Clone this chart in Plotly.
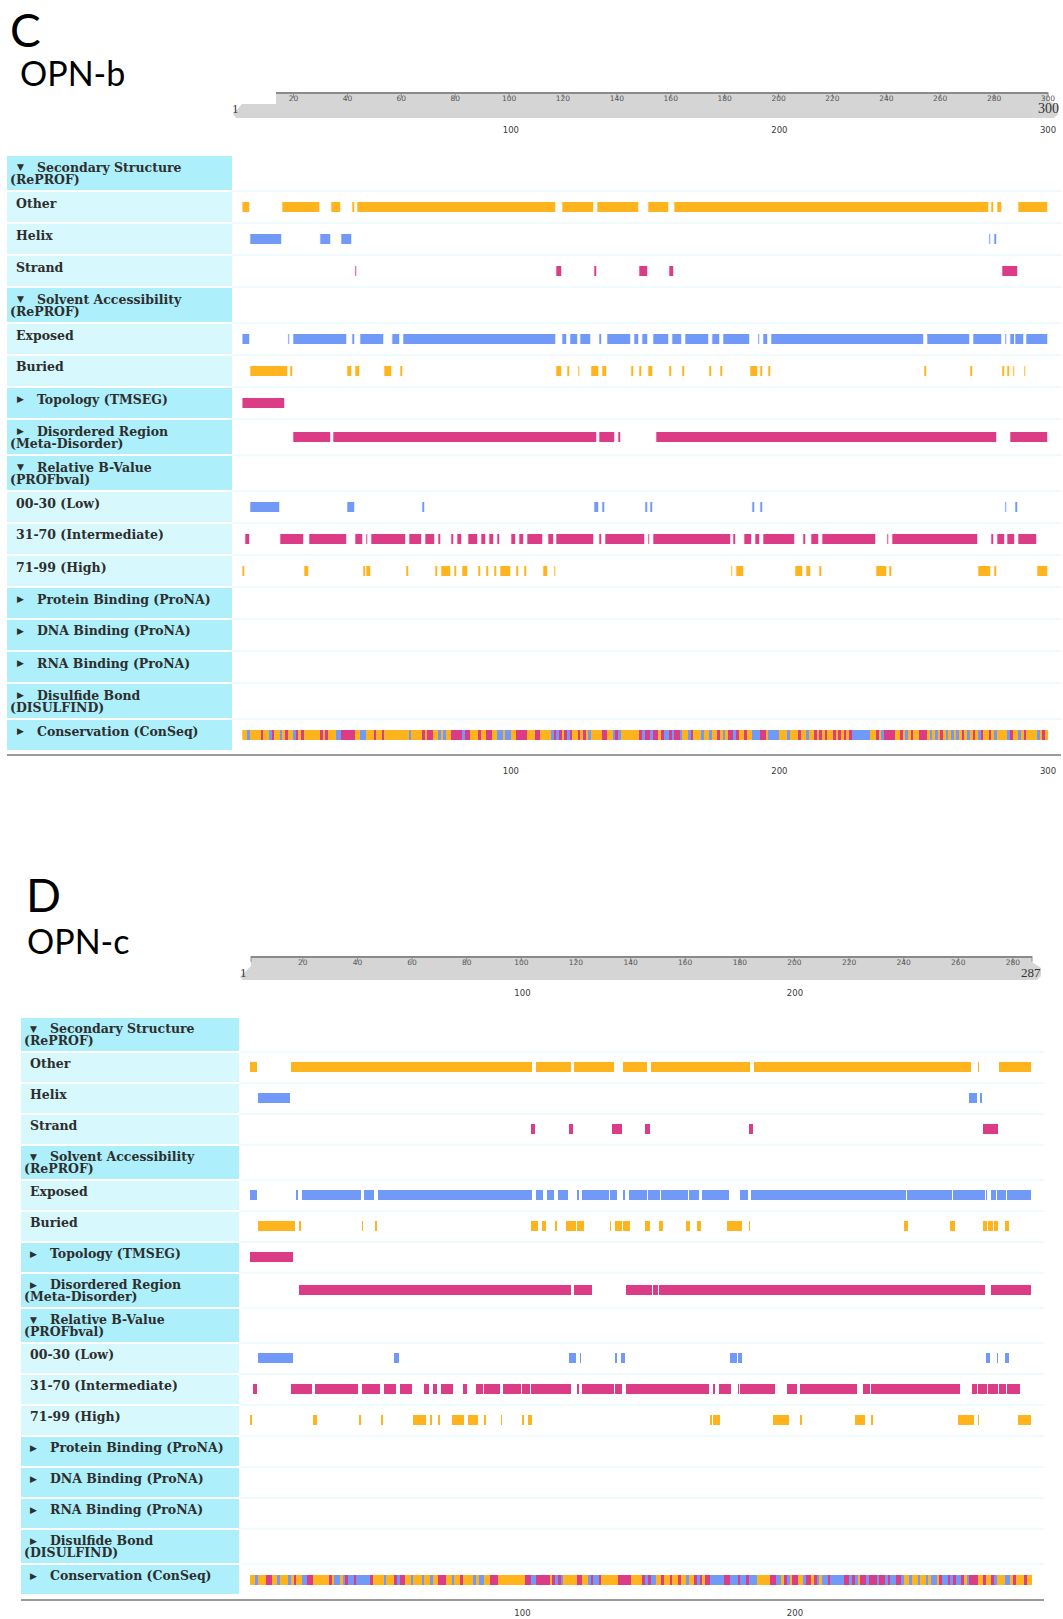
import plotly.graph_objects as go

W, H = 1063, 1619

# ---------------------------------------------------------------------------
# Palette
# ---------------------------------------------------------------------------
ORANGE = "#FFB31C"
BLUE = "#7199F7"
MAGENTA = "#DC3B86"
CODE_COLOR = {"O": ORANGE, "B": BLUE, "M": MAGENTA}
HEADER_BG = "#ADF0FB"
SUB_BG = "#D7F9FE"
ROW_LINE = "#DDF6FB"
LABEL_TEXT = "#2E2E2E"
RULER_GREY = "#8A8A8A"

# ---------------------------------------------------------------------------
# Feature rows (marker, first line, second line)
# ---------------------------------------------------------------------------
ROW_LABELS = [
    ("▼", "Secondary Structure", "(RePROF)"),
    (None, "Other", None),
    (None, "Helix", None),
    (None, "Strand", None),
    ("▼", "Solvent Accessibility", "(RePROF)"),
    (None, "Exposed", None),
    (None, "Buried", None),
    ("▶", "Topology (TMSEG)", None),
    ("▶", "Disordered Region", "(Meta-Disorder)"),
    ("▼", "Relative B-Value", "(PROFbval)"),
    (None, "00-30 (Low)", None),
    (None, "31-70 (Intermediate)", None),
    (None, "71-99 (High)", None),
    ("▶", "Protein Binding (ProNA)", None),
    ("▶", "DNA Binding (ProNA)", None),
    ("▶", "RNA Binding (ProNA)", None),
    ("▶", "Disulfide Bond", "(DISULFIND)"),
    ("▶", "Conservation (ConSeq)", None),
]
CONSERVATION_ROW = 17

# ---------------------------------------------------------------------------
# OPN-b (300 residues): segments as (first residue, last residue)
# ---------------------------------------------------------------------------
OPNB_LENGTH = 300
OPNB_OTHER = [(1, 3), (16, 29), (34, 37), (42, 42), (44, 117), (120, 131), (133, 148),
              (152, 159), (162, 278), (280, 280), (282, 283), (290, 300)]
OPNB_HELIX = [(4, 15), (30, 33), (38, 41), (279, 279), (281, 281)]
OPNB_STRAND = [(43, 43), (118, 119), (132, 132), (149, 151), (160, 161), (284, 289)]
OPNB_EXPOSED = [(1, 3), (18, 18), (20, 39), (42, 42), (45, 53), (57, 59), (61, 117),
                (120, 121), (123, 125), (127, 130), (134, 134), (137, 145), (147, 148),
                (150, 151), (154, 159), (161, 164), (166, 174), (176, 178), (180, 189),
                (193, 193), (195, 196), (198, 254), (256, 271), (273, 283), (285, 285),
                (287, 288), (289, 291), (293, 300)]
OPNB_BURIED = [(4, 17), (19, 19), (40, 41), (43, 44), (54, 56), (60, 60), (118, 119),
               (122, 122), (126, 126), (131, 133), (135, 136), (146, 146), (149, 149),
               (152, 153), (160, 160), (165, 165), (175, 175), (179, 179), (190, 192),
               (194, 194), (197, 197), (255, 255), (272, 272), (284, 284), (286, 286),
               (288, 288), (292, 292)]
OPNB_TOPOLOGY = [(1, 16)]
OPNB_DISORDER = [(20, 33), (35, 132), (134, 139), (141, 141), (155, 281), (287, 300)]
OPNB_BVAL_LOW = [(4, 14), (40, 42), (68, 68), (132, 133), (135, 135), (151, 151),
                 (153, 153), (191, 191), (194, 194), (285, 285), (289, 289)]
OPNB_BVAL_MID = [(2, 3), (15, 23), (26, 39), (43, 45), (47, 47), (49, 61), (63, 67),
                 (69, 72), (74, 74), (79, 79), (81, 82), (85, 88), (90, 91), (93, 94),
                 (96, 96), (101, 102), (104, 105), (107, 112), (115, 116), (118, 131),
                 (134, 134), (136, 150), (152, 152), (154, 182), (184, 184), (188, 190),
                 (192, 193), (195, 206), (210, 210), (213, 215), (217, 236), (241, 241),
                 (243, 274), (280, 280), (282, 284), (286, 288), (290, 296)]
OPNB_BVAL_HIGH = [(1, 1), (24, 25), (46, 46), (47, 48), (62, 62), (73, 73), (75, 78),
                  (80, 80), (83, 84), (89, 89), (92, 92), (95, 95), (97, 100), (103, 103),
                  (106, 106), (113, 114), (117, 117), (183, 183), (185, 187), (207, 209),
                  (211, 212), (216, 216), (237, 240), (242, 242), (275, 279), (281, 281),
                  (297, 300)]
# ConSeq colour runs: (colour code, last residue of the run)
OPNB_CONSERVATION = [
    ("O", 2), ("B", 3), ("O", 7), ("M", 8), ("O", 10), ("B", 11), ("M", 12), ("O", 14),
    ("B", 15), ("O", 16), ("M", 17), ("O", 19), ("B", 20), ("M", 21), ("O", 22), ("M", 23),
    ("O", 29), ("M", 30), ("O", 31), ("M", 32), ("O", 35), ("B", 37), ("M", 42), ("O", 44),
    ("B", 46), ("O", 49), ("M", 50), ("O", 52), ("M", 53), ("O", 62), ("B", 63), ("O", 67),
    ("M", 68), ("O", 69), ("M", 71), ("O", 73), ("B", 74), ("O", 75), ("B", 76), ("O", 78),
    ("M", 82), ("B", 83), ("M", 85), ("O", 88), ("M", 89), ("O", 91), ("M", 93), ("O", 95),
    ("B", 97), ("O", 98), ("B", 100), ("O", 102), ("M", 106), ("O", 109), ("M", 111),
    ("O", 115), ("B", 116), ("M", 117), ("B", 118), ("M", 119), ("O", 120), ("M", 121),
    ("B", 122), ("M", 123), ("O", 125), ("M", 126), ("O", 127), ("M", 128), ("O", 129),
    ("B", 130), ("O", 134), ("M", 136), ("O", 138), ("B", 139), ("M", 140), ("B", 141),
    ("O", 148), ("M", 149), ("B", 150), ("M", 152), ("B", 153), ("M", 155), ("O", 156),
    ("M", 157), ("B", 159), ("M", 160), ("B", 161), ("M", 163), ("B", 164), ("O", 166),
    ("B", 167), ("M", 168), ("O", 171), ("B", 172), ("O", 174), ("B", 175), ("O", 177),
    ("M", 178), ("O", 179), ("B", 180), ("O", 181), ("M", 183), ("B", 184), ("M", 185),
    ("O", 187), ("M", 188), ("O", 190), ("B", 193), ("M", 195), ("O", 196), ("B", 200),
    ("O", 203), ("B", 204), ("O", 207), ("M", 208), ("O", 210), ("B", 211), ("O", 213),
    ("M", 214), ("O", 215), ("M", 216), ("O", 217), ("M", 218), ("O", 220), ("M", 221),
    ("O", 222), ("M", 223), ("O", 224), ("M", 225), ("O", 226), ("M", 227), ("B", 234),
    ("O", 236), ("M", 237), ("O", 238), ("B", 239), ("M", 243), ("O", 245), ("M", 246),
    ("O", 247), ("B", 248), ("O", 249), ("M", 250), ("O", 252), ("M", 255), ("O", 256),
    ("B", 257), ("O", 258), ("B", 259), ("O", 260), ("M", 261), ("O", 262), ("B", 263),
    ("O", 264), ("B", 265), ("O", 266), ("B", 267), ("O", 268), ("M", 269), ("O", 270),
    ("B", 271), ("O", 272), ("M", 273), ("O", 274), ("B", 275), ("M", 276), ("O", 278),
    ("M", 279), ("O", 280), ("B", 281), ("O", 285), ("B", 286), ("M", 287), ("O", 289),
    ("B", 290), ("O", 291), ("M", 292), ("O", 296), ("B", 297), ("O", 298), ("M", 299),
    ("O", 300),
]

# ---------------------------------------------------------------------------
# OPN-c (287 residues)
# ---------------------------------------------------------------------------
OPNC_LENGTH = 287
OPNC_OTHER = [(1, 3), (16, 104), (106, 118), (120, 134), (138, 146), (148, 184),
              (186, 265), (268, 268), (276, 287)]
OPNC_HELIX = [(4, 15), (265, 267), (269, 269)]
OPNC_STRAND = [(104, 105), (118, 119), (134, 137), (146, 147), (184, 185), (270, 275)]
OPNC_EXPOSED = [(1, 3), (18, 18), (20, 41), (43, 46), (48, 104), (106, 108), (110, 112),
                (114, 117), (121, 121), (123, 132), (133, 135), (138, 138), (140, 146),
                (147, 151), (152, 161), (162, 165), (167, 176), (181, 183), (185, 241),
                (242, 258), (259, 270), (271, 271), (273, 274), (275, 278), (279, 287)]
OPNC_BURIED = [(4, 17), (19, 19), (42, 42), (47, 47), (104, 106), (108, 109), (113, 113),
               (117, 120), (121, 123), (133, 133), (135, 137), (138, 140), (146, 147),
               (151, 152), (161, 162), (165, 166), (176, 181), (184, 184), (241, 242),
               (258, 259), (270, 271), (272, 273), (274, 275), (278, 279)]
OPNC_TOPOLOGY = [(1, 16)]
OPNC_DISORDER = [(19, 118), (120, 126), (139, 148), (149, 150), (151, 270), (273, 287)]
OPNC_BVAL_LOW = [(4, 16), (54, 55), (118, 120), (122, 122), (135, 135), (137, 138),
                 (177, 179), (180, 181), (271, 272), (275, 275), (278, 279)]
OPNC_BVAL_MID = [(2, 3), (16, 23), (25, 40), (42, 48), (50, 54), (56, 60), (65, 66),
                 (68, 69), (71, 75), (79, 80), (84, 86), (87, 92), (94, 100), (101, 103),
                 (104, 118), (121, 121), (123, 134), (135, 137), (139, 169), (171, 171),
                 (173, 177), (180, 180), (181, 193), (198, 201), (203, 223), (226, 228),
                 (229, 261), (266, 267), (268, 271), (272, 275), (276, 278), (279, 283)]
OPNC_BVAL_HIGH = [(1, 1), (24, 25), (41, 41), (49, 49), (61, 65), (67, 67), (70, 70),
                  (75, 79), (81, 84), (87, 87), (93, 93), (101, 101), (103, 104),
                  (170, 170), (171, 173), (193, 198), (203, 203), (223, 226), (229, 229),
                  (261, 266), (268, 268), (283, 287)]
OPNC_CONSERVATION = [
    ("O", 2), ("B", 3), ("O", 6), ("M", 8), ("O", 10), ("B", 11), ("O", 14), ("B", 15),
    ("O", 16), ("M", 17), ("O", 19), ("B", 21), ("M", 23), ("O", 29), ("M", 30), ("O", 31),
    ("B", 33), ("O", 34), ("B", 35), ("M", 36), ("B", 38), ("M", 39), ("B", 44), ("M", 45),
    ("O", 49), ("B", 50), ("O", 53), ("M", 54), ("B", 55), ("M", 57), ("O", 59), ("B", 60),
    ("O", 63), ("B", 64), ("O", 66), ("B", 67), ("O", 69), ("M", 72), ("O", 74), ("B", 75),
    ("O", 77), ("M", 78), ("O", 82), ("B", 83), ("O", 84), ("B", 86), ("O", 88), ("M", 91),
    ("O", 101), ("M", 103), ("B", 105), ("M", 110), ("O", 111), ("M", 112), ("B", 113),
    ("M", 114), ("B", 115), ("O", 120), ("M", 122), ("O", 124), ("B", 125), ("M", 126),
    ("B", 128), ("M", 129), ("O", 135), ("M", 140), ("O", 144), ("M", 145), ("B", 146),
    ("M", 147), ("B", 149), ("O", 151), ("M", 152), ("O", 154), ("M", 155), ("O", 157),
    ("M", 158), ("O", 160), ("B", 161), ("O", 163), ("M", 164), ("B", 165), ("M", 166),
    ("O", 167), ("M", 169), ("B", 174), ("M", 176), ("B", 179), ("M", 180), ("B", 182),
    ("M", 183), ("B", 186), ("O", 191), ("M", 193), ("B", 195), ("O", 196), ("M", 197),
    ("B", 198), ("O", 199), ("M", 201), ("O", 203), ("B", 204), ("M", 206), ("O", 207),
    ("M", 208), ("B", 209), ("O", 210), ("B", 212), ("M", 213), ("B", 218), ("M", 220),
    ("B", 221), ("M", 222), ("B", 223), ("O", 224), ("M", 226), ("B", 227), ("M", 230),
    ("B", 231), ("M", 233), ("B", 234), ("M", 235), ("B", 237), ("M", 239), ("B", 240),
    ("O", 242), ("B", 243), ("O", 245), ("B", 246), ("O", 248), ("B", 249), ("O", 250),
    ("B", 252), ("O", 253), ("M", 254), ("B", 256), ("M", 257), ("B", 258), ("M", 259),
    ("B", 261), ("M", 262), ("O", 263), ("B", 264), ("M", 267), ("O", 269), ("M", 270),
    ("O", 272), ("M", 273), ("B", 274), ("O", 277), ("B", 279), ("O", 280), ("M", 281),
    ("O", 284), ("M", 285), ("O", 287),
]

OPNB_TRACKS = {
    1: (OPNB_OTHER, ORANGE), 2: (OPNB_HELIX, BLUE), 3: (OPNB_STRAND, MAGENTA),
    5: (OPNB_EXPOSED, BLUE), 6: (OPNB_BURIED, ORANGE), 7: (OPNB_TOPOLOGY, MAGENTA),
    8: (OPNB_DISORDER, MAGENTA), 10: (OPNB_BVAL_LOW, BLUE), 11: (OPNB_BVAL_MID, MAGENTA),
    12: (OPNB_BVAL_HIGH, ORANGE),
}
OPNC_TRACKS = {
    1: (OPNC_OTHER, ORANGE), 2: (OPNC_HELIX, BLUE), 3: (OPNC_STRAND, MAGENTA),
    5: (OPNC_EXPOSED, BLUE), 6: (OPNC_BURIED, ORANGE), 7: (OPNC_TOPOLOGY, MAGENTA),
    8: (OPNC_DISORDER, MAGENTA), 10: (OPNC_BVAL_LOW, BLUE), 11: (OPNC_BVAL_MID, MAGENTA),
    12: (OPNC_BVAL_HIGH, ORANGE),
}

OPNB_RULER_TICKS = list(range(20, 301, 20))
OPNC_RULER_TICKS = [1] + list(range(20, 281, 20)) + [287]
OPNB_SCALE_TICKS = [100, 200, 300]
OPNC_SCALE_TICKS = [100, 200]


# ---------------------------------------------------------------------------
# Page geometry helpers (pixel -> paper)
# ---------------------------------------------------------------------------
def fx(p):
    return p / W


def fy(p):
    return 1 - p / H


def paper_path(points):
    """Closed SVG path in paper units from a list of pixel points."""
    parts = [f"{'M' if k == 0 else 'L'}{fx(x):.5f},{fy(y):.5f}"
             for k, (x, y) in enumerate(points)]
    return " ".join(parts) + " Z"


PANELS = [
    dict(letter="C", name="OPN-b", length=OPNB_LENGTH, tracks=OPNB_TRACKS,
         conservation=OPNB_CONSERVATION,
         letter_pos=(8, 29), name_pos=(18, 72),
         cell=(7, 232), track_right=1061, bar_px=(242.3, 1048.0),
         top=155, single=32, double=36, scale=1.0,
         ruler_line=93, ruler_px=(276, 1048), ruler_range=(13.5, 300),
         ruler_ticks=OPNB_RULER_TICKS,
         band=[(276, 93), (1048, 93), (1048, 100), (1058, 106), (1058, 114), (1054, 118),
               (236, 118), (233, 114), (242, 104), (276, 104)],
         ends=[("1", 235, 108, 13), (str(OPNB_LENGTH), 1048, 108, 14)],
         scale_ticks=OPNB_SCALE_TICKS, top_label_y=131, bottom_line=755,
         bottom_label_y=772),
    dict(letter="D", name="OPN-c", length=OPNC_LENGTH, tracks=OPNC_TRACKS,
         conservation=OPNC_CONSERVATION,
         letter_pos=(24, 895), name_pos=(25, 940),
         cell=(21, 239), track_right=1044, bar_px=(250.0, 1032.0),
         top=1017, single=31, double=35, scale=0.97,
         ruler_line=957, ruler_px=(251, 1032), ruler_range=(1, 287),
         ruler_ticks=OPNC_RULER_TICKS,
         band=[(251, 957), (1032, 957), (1032, 962), (1041, 968), (1041, 976), (1037, 980),
               (243, 980), (240, 977), (251, 966)],
         ends=[("1", 243, 972, 13), (str(OPNC_LENGTH), 1031, 972, 13)],
         scale_ticks=OPNC_SCALE_TICKS, top_label_y=994, bottom_line=1600,
         bottom_label_y=1614),
]

fig = go.Figure()
shapes, annotations = [], []

# one shared vertical axis measured in page pixels (top = 0)
layout_axes = {
    "yaxis": dict(domain=[0, 1], range=[H, 0], visible=False, fixedrange=True),
}


def axis_key(n):
    return "xaxis" if n == 1 else f"xaxis{n}"


def axis_ref(n):
    return "x" if n == 1 else f"x{n}"


for i, p in enumerate(PANELS):
    n_trk, n_rul = 2 * i + 1, 2 * i + 2
    xr, xrul = axis_ref(n_trk), axis_ref(n_rul)

    # ---- row geometry (page pixels) ----
    heights = [p["double"] if lab[2] else p["single"] for lab in ROW_LABELS]
    tops = []
    acc = p["top"]
    for h in heights:
        tops.append(acc)
        acc += h

    # ---- residue axis shared by the tracks and the 100/200/300 labels ----
    layout_axes[axis_key(n_trk)] = dict(
        domain=[fx(p["bar_px"][0]), fx(p["bar_px"][1])], range=[0, p["length"]],
        visible=False, fixedrange=True, anchor="y")

    for ylab in (p["top_label_y"], p["bottom_label_y"]):
        fig.add_trace(go.Scatter(
            x=p["scale_ticks"], y=[ylab] * len(p["scale_ticks"]),
            text=[str(t) for t in p["scale_ticks"]], mode="text",
            textposition="middle center", cliponaxis=False,
            textfont=dict(family="DejaVu Sans", size=8.5, color="#3a3a3a"),
            xaxis=xr, yaxis="y", hoverinfo="skip", showlegend=False))

    # ---- ruler ----
    shapes.append(dict(type="path", xref="paper", yref="paper", layer="below",
                       path=paper_path(p["band"]),
                       fillcolor="#D5D5D5", line=dict(width=0)))
    rl = p["ruler_line"]
    lo, hi = p["ruler_range"]
    layout_axes[axis_key(n_rul)] = dict(
        domain=[fx(p["ruler_px"][0]), fx(p["ruler_px"][1])], range=[lo, hi],
        visible=False, fixedrange=True, anchor="y")
    fig.add_trace(go.Scatter(
        x=[lo, hi], y=[rl, rl], mode="lines", cliponaxis=False,
        line=dict(color=RULER_GREY, width=2),
        xaxis=xrul, yaxis="y", hoverinfo="skip", showlegend=False))
    ticks = p["ruler_ticks"]
    fig.add_trace(go.Scatter(
        x=ticks, y=[rl + 2] * len(ticks), mode="markers", cliponaxis=False,
        marker=dict(symbol="line-ns", size=4, line=dict(color=RULER_GREY, width=1)),
        xaxis=xrul, yaxis="y", hoverinfo="skip", showlegend=False))
    labelled = [t for t in ticks if t % 20 == 0]
    fig.add_trace(go.Scatter(
        x=labelled, y=[rl + 6.5] * len(labelled), text=[str(t) for t in labelled],
        mode="text", textposition="middle center", cliponaxis=False,
        textfont=dict(family="DejaVu Sans", size=7.5, color="#555555"),
        xaxis=xrul, yaxis="y", hoverinfo="skip", showlegend=False))

    for txt, xpix, ypix, size in p["ends"]:
        annotations.append(dict(text=txt, x=fx(xpix), y=fy(ypix), xref="paper",
                                yref="paper", showarrow=False, xanchor="center",
                                yanchor="middle",
                                font=dict(family="Liberation Serif", size=size,
                                          color="#333333")))

    # ---- panel titles ----
    annotations.append(dict(text=p["letter"], x=fx(p["letter_pos"][0]),
                            y=fy(p["letter_pos"][1]), xref="paper", yref="paper",
                            showarrow=False, xanchor="left", yanchor="middle",
                            font=dict(family="Lato", size=46, color="black")))
    annotations.append(dict(text=p["name"], x=fx(p["name_pos"][0]),
                            y=fy(p["name_pos"][1]), xref="paper", yref="paper",
                            showarrow=False, xanchor="left", yanchor="middle",
                            font=dict(family="Lato", size=34, color="black")))

    # ---- label column and row separators ----
    cl, cr = p["cell"]
    s = p["scale"]
    for r, (marker, line1, line2) in enumerate(ROW_LABELS):
        top_px = tops[r]
        h = heights[r]
        shapes.append(dict(type="rect", xref="paper", yref="paper", layer="below",
                           x0=fx(cl), x1=fx(cr), y0=fy(top_px + h - 1), y1=fy(top_px + 1),
                           fillcolor=HEADER_BG if marker else SUB_BG,
                           line=dict(width=0)))
        if r > 0:
            shapes.append(dict(type="line", xref="paper", yref="paper", layer="below",
                               x0=fx(cr), x1=fx(p["track_right"]),
                               y0=fy(top_px), y1=fy(top_px),
                               line=dict(color=ROW_LINE, width=1)))
        font = dict(family="DejaVu Serif", size=12.5, color=LABEL_TEXT, weight="bold")
        y1 = fy(top_px + 12 * s)
        if marker:
            annotations.append(dict(text=marker, x=fx(cl + 13 * s), y=y1, xref="paper",
                                    yref="paper", showarrow=False, xanchor="center",
                                    yanchor="middle",
                                    font=dict(family="DejaVu Sans", size=9,
                                              color=LABEL_TEXT)))
            annotations.append(dict(text=line1, x=fx(cl + 28 * s), y=y1, xref="paper",
                                    yref="paper", showarrow=False, xanchor="left",
                                    yanchor="middle", font=font))
            if line2:
                annotations.append(dict(text=line2, x=fx(cl + 1), y=fy(top_px + 24 * s),
                                        xref="paper", yref="paper", showarrow=False,
                                        xanchor="left", yanchor="middle", font=font))
        else:
            annotations.append(dict(text=line1, x=fx(cl + 7 * s), y=y1, xref="paper",
                                    yref="paper", showarrow=False, xanchor="left",
                                    yanchor="middle", font=font))

    shapes.append(dict(type="line", xref="paper", yref="paper",
                       x0=fx(cl), x1=fx(p["track_right"]),
                       y0=fy(p["bottom_line"]), y1=fy(p["bottom_line"]),
                       line=dict(color="#9A9A9A", width=2)))

    # ---- feature segments ----
    for r, (segs, color) in p["tracks"].items():
        centre = tops[r] + heights[r] / 2
        fig.add_trace(go.Bar(
            orientation="h", base=[a - 1 for a, b in segs], x=[b - a + 1 for a, b in segs],
            y=[centre] * len(segs), width=11,
            marker=dict(color=color, line=dict(color="white", width=1)),
            xaxis=xr, yaxis="y", hoverinfo="skip", showlegend=False))

    # ---- conservation colour runs ----
    centre = tops[CONSERVATION_ROW] + heights[CONSERVATION_ROW] / 2
    runs = {"O": [], "B": [], "M": []}
    start = 1
    for code, end in p["conservation"]:
        runs[code].append((start, end))
        start = end + 1
    for code, segs in runs.items():
        fig.add_trace(go.Bar(
            orientation="h", base=[a - 1 for a, b in segs], x=[b - a + 1 for a, b in segs],
            y=[centre] * len(segs), width=10,
            marker=dict(color=CODE_COLOR[code], line=dict(width=0)),
            xaxis=xr, yaxis="y", hoverinfo="skip", showlegend=False))

fig.update_layout(
    width=W, height=H, autosize=False, margin=dict(l=0, r=0, t=0, b=0, pad=0),
    paper_bgcolor="white", plot_bgcolor="rgba(0,0,0,0)",
    barmode="overlay", bargap=0, showlegend=False,
    shapes=shapes, annotations=annotations, **layout_axes)

fig.write_html("out.html", config={"responsive": False, "displayModeBar": False})
